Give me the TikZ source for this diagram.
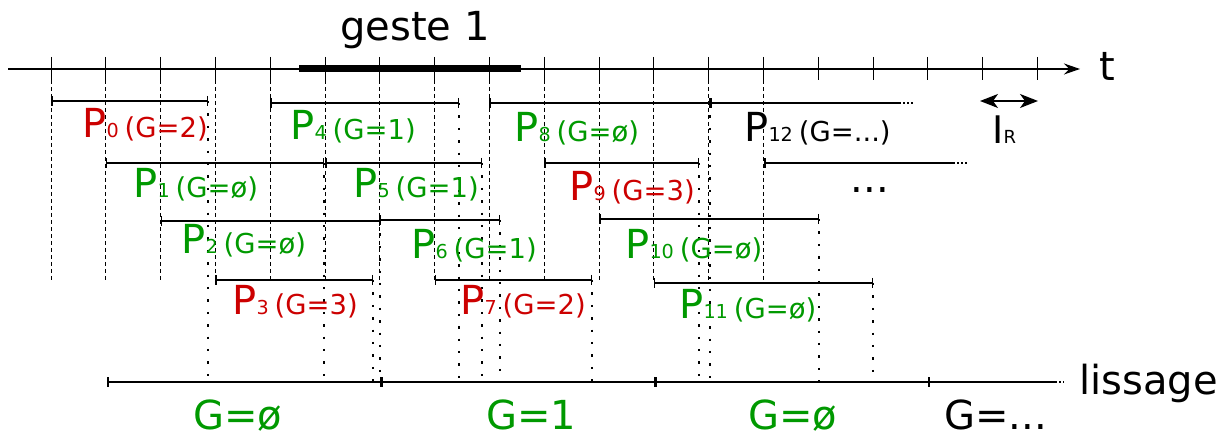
\documentclass[tikz,border=0pt]{standalone}
\usepackage{fontspec}
\setmainfont{DejaVu Sans}
\usepackage{xcolor}
\usetikzlibrary{arrows.meta}

\definecolor{fgreen}{RGB}{0,153,0}
\definecolor{fred}{RGB}{204,0,0}

\newcommand{\plab}[2]{{\fontsize{20}{24}\selectfont P}{\fontsize{9.6}{12}\selectfont #1}\hspace{3pt}{\fontsize{13.7}{16}\selectfont (G=#2)}}

\begin{document}
\begin{tikzpicture}[
        x=0.5pt, y=-0.5pt,
        timeline/.style={line width=0.6pt},
        tickmark/.style={line width=0.5pt},
        guide/.style={line width=0.5pt, dash pattern=on 2pt off 1.5pt},
        drop/.style={line width=1.3pt, dash pattern=on 1.2pt off 5pt},
        interval/.style={line width=0.75pt, {Bar[width=5pt]}-{Bar[width=5pt]}},
        more/.style={line width=0.6pt, dash pattern=on 0.8pt off 1.2pt},
        big/.style={font=\fontsize{20}{24}\selectfont},
        lbl/.style={inner sep=0pt, anchor=base west},
    ]
        \useasboundingbox (0,0) rectangle (1227,437);

        % time axis and gesture
        \coordinate (t0) at (8,69);
        \coordinate (tend) at (1080,69);
        \draw[timeline, -{Stealth[length=8pt, width=5.5pt]}] (t0) -- (tend);
        \node[big, lbl] (t) at (1099,81) {t};
        \foreach \k in {0,...,18}
            \draw[tickmark] ({51+54.8*\k},57) -- ({51+54.8*\k},80);
        \foreach \k in {0,...,13}
            \draw[guide] ({51+54.8*\k},80) -- ({51+54.8*\k},281);
        \coordinate (g0) at (299,69);
        \coordinate (g1) at (521,69);
        \draw[line width=3.5pt] (g0) -- (g1);
        \node[big, inner sep=0pt, anchor=base] (geste) at (415,41) {geste 1};

        % smoothing line
        \coordinate (lis) at (107,382);
        \coordinate (l1) at (381,382);
        \coordinate (l2) at (655,382);
        \coordinate (l3) at (929,382);
        \coordinate (lisend) at (1055,382);
        \draw[interval] (lis) -- (l1);
        \draw[interval] (l1) -- (l2);
        \draw[interval] (l2) -- (l3);
        \draw[timeline, {Bar[width=5pt]}-] (l3) -- (lisend);
        \draw[more] (lisend) -- ++(9,0);
        \node[big, lbl] (lissage) at (1079,395) {lissage};

        % windows P0..P11
        \foreach \i/\y/\e/\col/\g/\lx/\ly in {
                0/101/208/fred/2/82/138, 1/163/324/fgreen/ø/133/198,
                2/221/380/fgreen/ø/181/254, 3/280/373/fred/3/232/315,
                4/103/459/fgreen/1/290/140, 5/163/482/fgreen/1/353/198,
                6/220/500/fgreen/1/411/259, 7/280/592/fred/2/460/315,
                8/103/710/fgreen/ø/514/142, 9/163/699/fred/3/569/201,
                10/219/819/fgreen/ø/625/259, 11/283/873/fgreen/ø/679/319} {
            \coordinate (s\i) at ({51+54.8*\i},\y);
            \coordinate (e\i) at (\e,\y);
            \draw[interval] (s\i) -- (e\i);
            \draw[drop] (e\i) -- (e\i |- lis);
            \node[lbl, text=\col] (p\i) at (\lx,\ly) {\plab{\i}{\g}};
        }

        % open windows
        \coordinate (s12) at (710,103);
        \coordinate (e12) at (899,103);
        \draw[line width=0.75pt, {Bar[width=5pt]}-] (s12) -- (e12);
        \draw[more] (e12) -- ++(14,0);
        \node[lbl] (p12) at (744,142) {\plab{12}{...}};
        \coordinate (s13) at (764,163);
        \coordinate (e13) at (953,163);
        \draw[line width=0.75pt, {Bar[width=5pt]}-] (s13) -- (e13);
        \draw[more] (e13) -- ++(15,0);
        \node[big, inner sep=0pt, anchor=base] (etc) at (870,193) {...};

        % recovery interval
        \coordinate (ir0) at (980,101);
        \coordinate (ir1) at (1038,101);
        \draw[line width=0.7pt, {Stealth[length=9pt, width=7pt, inset=2.5pt]}-{Stealth[length=9pt, width=7pt, inset=2.5pt]}] (ir0) -- (ir1);
        \node[lbl] (ir) at (992,144) {\fontsize{19}{22}\selectfont I\fontsize{9}{11}\selectfont R};

        % smoothed gestures
        \node[big, lbl, text=fgreen] (gs0) at (193,430) {G=ø};
        \node[big, lbl, text=fgreen] (gs1) at (486,430) {G=1};
        \node[big, lbl, text=fgreen] (gs2) at (748,430) {G=ø};
        \node[big, lbl] (gs3) at (944,430) {G=...};
    \end{tikzpicture}
\end{document}
